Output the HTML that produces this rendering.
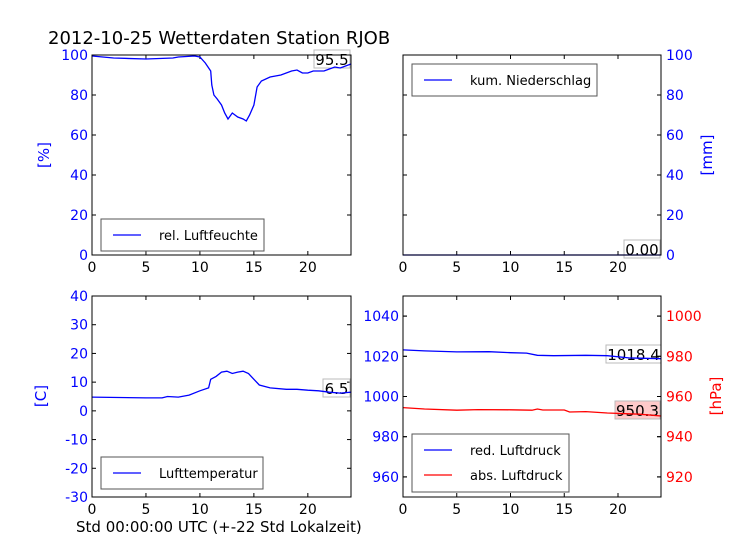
<!DOCTYPE html>
<html><head><meta charset="utf-8"><style>
html,body{margin:0;padding:0;background:#fff;}
svg{display:block;font-family:"DejaVu Sans","Liberation Sans",sans-serif;}
</style></head><body>
<svg id="c" width="736" height="552" viewBox="0 0 736 552" xmlns="http://www.w3.org/2000/svg">
<rect width="736" height="552" fill="#fff"/>
<text x="48" y="44" font-size="18" fill="#000">2012-10-25 Wetterdaten Station RJOB</text>
<text x="76" y="532" font-size="15" fill="#000">Std 00:00:00 UTC (+-22 Std Lokalzeit)</text>
</svg>
<script>
const humT=[0,2,5,7.5,8,9.5,10,10.5,11,11.1,11.3,11.6,12,12.3,12.6,13,13.5,14,14.3,14.6,15,15.3,15.7,16.5,17.5,18.5,19,19.5,20,20.5,21.5,22,22.5,23,24];
const humV=[99.5,98.5,98,98.5,99,99.5,99,96,92,85,80,78,75,71,68,71,69,68,67,70,75,84,87,89,90,92,92.5,91,91,92,92,93,94,93.5,95.5];
const tmpT=[0,5,6.5,7,8,9,10,10.8,11,11.5,12,12.5,13,13.5,14,14.5,15,15.5,16.5,18,19,20,21,22,23,24];
const tmpV=[4.8,4.5,4.5,5,4.8,5.5,7,8,11,12,13.5,13.8,13,13.5,13.8,13,11,9,8,7.5,7.5,7.2,7,6.5,6.2,6.5];
const rainT=[0,24];
const rainV=[0,0];
const redT=[0,2,5,8,10,11.5,12.5,14,17,19,21,24];
const redV=[1023.2,1022.7,1022.2,1022.3,1021.8,1021.6,1020.5,1020.3,1020.5,1020.3,1019.2,1018.8];
const absT=[0,2,5,7,10,12,12.5,13,15,15.5,17,19,22,24];
const absV=[954.5,953.8,953.2,953.5,953.4,953.2,953.8,953.3,953.3,952.3,952.5,951.8,951.2,950.3];
const xTicks=[0,5,10,15,20];
const humTicks=[0,20,40,60,80,100];
const rainTicks=[0,20,40,60,80,100];
const tmpTicks=[-30,-20,-10,0,10,20,30,40];
const redTicks=[960,980,1000,1020,1040];
const absTicks=[920,940,960,980,1000];

const svg=document.getElementById('c');
const NS='http://www.w3.org/2000/svg';
function mk(tag,attrs,parent){const e=document.createElementNS(NS,tag);for(const k in attrs)e.setAttribute(k,attrs[k]);(parent||svg).appendChild(e);return e;}
function panel(name,x0,x1,y0,y1,ylo,yhi){
  const g=mk('g',{});
  
  
  const p={g,x0,x1,y0,y1,sx:t=>x0+(x1-x0)*t/24,sy:v=>y1-(y1-y0)*(v-ylo)/(yhi-ylo)};
  xTicks.forEach(t=>{
    const x=p.sx(t);
    mk('line',{x1:x,x2:x,y1:y1,y2:y1-4,stroke:'#000'},g);
    mk('line',{x1:x,x2:x,y1:y0,y2:y0+4,stroke:'#000'},g);
    const tx=mk('text',{x:x,y:y1+17,'font-size':14,'text-anchor':'middle',fill:'#000'},g);
    tx.textContent=t;
    
    
  });
  return p;
}
function yaxis(p,ticks,lo,hi,side,color,name){
  const sy=v=>p.y1-(p.y1-p.y0)*(v-lo)/(hi-lo);
  ticks.forEach(v=>{
    const y=sy(v);
    mk('line',{x1:p.x0,x2:p.x0+4,y1:y,y2:y,stroke:'#000'},p.g);
    mk('line',{x1:p.x1,x2:p.x1-4,y1:y,y2:y,stroke:'#000'},p.g);
    if(side){
      const left=side==='left';
      const tx=mk('text',{x:left?p.x0-4:p.x1+5,y:y+5,'font-size':14,'text-anchor':left?'end':'start',fill:color},p.g);
      tx.textContent=v;
      
      
    }
  });
  return sy;
}
function line(p,T,V,sy,color,name){
  const d=T.map((t,i)=>(i?'L':'M')+p.sx(t).toFixed(1)+','+sy(V[i]).toFixed(1)).join('');
  const e=mk('path',{d,fill:'none',stroke:color,'stroke-width':1.3},p.g);
  
  
}
function frame(p){mk('rect',{x:p.x0,y:p.y0,width:p.x1-p.x0,height:p.y1-p.y0,fill:'none',stroke:'#000','stroke-width':1},p.g);}
function label(p,txt,x,y,w,fill,name){
  mk('rect',{x:x,y:y,width:w,height:18,fill:fill,stroke:'#bbb','stroke-width':1},p.g);
  const t=mk('text',{x:x+w/2,y:y+15,'font-size':15,'text-anchor':'middle',fill:'#000'},p.g);
  t.textContent=txt;
  
  
}
function legend(p,x,y,w,entries,name){
  const h=entries.length*26+6;
  const r=mk('rect',{x:x,y:y,width:w,height:h,fill:'#fff',stroke:'#555','stroke-width':1},p.g);
  
  
  entries.forEach((e,i)=>{
    const yy=y+16+i*25;
    mk('line',{x1:x+12,x2:x+40,y1:yy,y2:yy,stroke:e[1],'stroke-width':1.3},p.g);
    const t=mk('text',{x:x+58,y:yy+5,'font-size':13,fill:'#000'},p.g);
    t.textContent=e[0];
    
    
  });
}
function ytitle(x,y,txt,color,name){
  const t=mk('text',{x:x,y:y,'font-size':15,'text-anchor':'middle',fill:color,transform:`rotate(-90 ${x} ${y})`});
  t.textContent=txt;
  
  
}

let p=panel('humidity-panel',92,351,55,255,0,100);
let sy=yaxis(p,humTicks,0,100,'left','#0000ff','y-tick-label');
label(p,'95.5',314,50,36,'none','humidity-last-value');
line(p,humT,humV,sy,'#0000ff','humidity-line');
frame(p);
legend(p,101,219,163,[['rel. Luftfeuchte','#0000ff']],'humidity-legend');
ytitle(49,155,'[%]','#0000ff','humidity-y-title');

p=panel('rain-panel',403,661,55,255,0,100);
sy=yaxis(p,rainTicks,0,100,'right','#0000ff','y-tick-label');
label(p,'0.00',624,240,36,'none','rain-last-value');
line(p,rainT,rainV,sy,'#0000ff','rain-line');
frame(p);
legend(p,412,64,185,[['kum. Niederschlag','#0000ff']],'rain-legend');
ytitle(712,155,'[mm]','#0000ff','rain-y-title');

p=panel('temperature-panel',92,351,296,497,-30,40);
sy=yaxis(p,tmpTicks,-30,40,'left','#0000ff','y-tick-label');
label(p,'6.5',323,379,27,'none','temperature-last-value');
line(p,tmpT,tmpV,sy,'#0000ff','temperature-line');
frame(p);
legend(p,101,457,162,[['Lufttemperatur','#0000ff']],'temperature-legend');
ytitle(46,396,'[C]','#0000ff','temperature-y-title');

p=panel('pressure-panel',403,661,296,497,950,1050);
sy=yaxis(p,redTicks,950,1050,'left','#0000ff','y-tick-label');
const sy2=yaxis(p,absTicks,910,1010,'right','#ff0000','y2-tick-label');
label(p,'1018.4',606,345,55,'none','red-pressure-last-value');
label(p,'950.3',615,401,45,'rgba(255,150,150,0.5)','abs-pressure-last-value');
line(p,redT,redV,sy,'#0000ff','red-pressure-line');
line(p,absT,absV,sy2,'#ff0000','abs-pressure-line');
frame(p);
legend(p,412,434,157,[['red. Luftdruck','#0000ff'],['abs. Luftdruck','#ff0000']],'pressure-legend');
ytitle(721,396,'[hPa]','#ff0000','pressure-y-title');
</script>
</body></html>
